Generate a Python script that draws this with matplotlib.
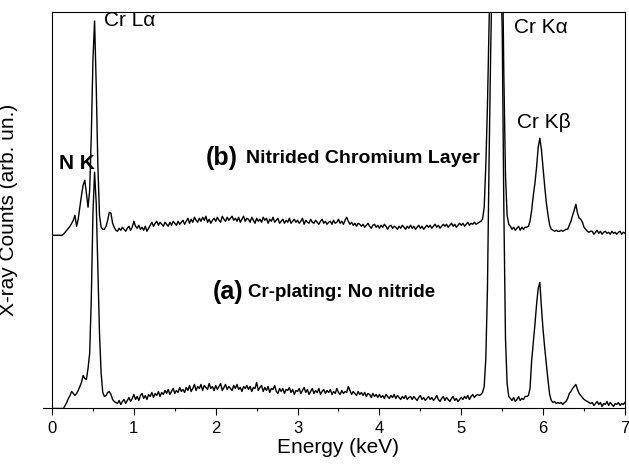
import numpy as np
import matplotlib
matplotlib.use("Agg")
import matplotlib.pyplot as plt
from matplotlib.ticker import MultipleLocator

# EDS channel grid (keV), 20 eV per channel
energy = np.round(np.arange(351) * 0.02, 2)

# (a) Cr-plating, counts in arbitrary units
counts_plating = [
    0, 0, 0, 0, 0, 0, 0, 0, 3, 6,
    10, 13, 17, 15, 13, 15, 18, 22, 26, 33,
    30, 29, 40, 55, 110, 195, 236, 205, 140, 75,
    35, 16, 12, 13, 16, 17, 14, 9, 7, 6,
    5, 8, 4, 7, 9, 5, 8, 11, 7, 10,
    14, 9, 12, 8, 13, 15, 10, 13, 9, 14,
    12, 16, 11, 15, 13, 17, 12, 16, 14, 18,
    15, 19, 14, 17, 20, 15, 18, 16, 21, 17,
    19, 16, 21, 18, 23, 17, 20, 24, 18, 22,
    20, 24, 18, 23, 21, 19, 25, 20, 22, 18,
    23, 19, 22, 25, 18, 21, 24, 19, 22, 20,
    18, 23, 20, 24, 19, 21, 17, 22, 20, 23,
    19, 22, 17, 21, 20, 26, 18, 21, 23, 17,
    21, 18, 22, 16, 20, 19, 23, 17, 15, 20,
    17, 20, 15, 19, 18, 21, 16, 19, 14, 18,
    17, 20, 15, 18, 21, 16, 19, 14, 17, 20,
    15, 18, 16, 20, 14, 17, 19, 15, 18, 16,
    19, 14, 17, 15, 20, 16, 14, 18, 15, 17,
    16, 22, 18, 14, 17, 15, 13, 17, 14, 16,
    13, 16, 12, 15, 14, 11, 15, 12, 14, 11,
    14, 11, 13, 10, 14, 12, 10, 13, 11, 14,
    10, 13, 11, 9, 12, 10, 13, 9, 11, 12,
    9, 12, 10, 8, 11, 13, 9, 11, 8, 10,
    12, 9, 11, 8, 10, 13, 9, 7, 10, 12,
    8, 11, 9, 7, 10, 12, 8, 10, 7, 9,
    11, 9, 12, 10, 13, 9, 12, 14, 11, 13,
    14, 13, 14, 16, 22, 50, 120, 250, 360, 450,
    490, 500, 500, 480, 450, 380, 200, 70, 25, 12,
    10, 8, 11, 7, 9, 12, 8, 10, 9, 12,
    12, 13, 20, 48, 66, 84, 104, 120, 126, 100,
    78, 60, 44, 28, 14, 8, 6, 7, 5, 6,
    5, 6, 4, 6, 7, 10, 15, 17, 20, 22,
    24, 19, 15, 13, 11, 9, 8, 7, 6, 5,
    6, 3, 5, 7, 4, 6, 2, 5, 4, 7,
    3, 6, 4, 2, 5, 4, 6, 3, 5, 4, 6,
]

# (b) nitrided chromium layer, counts in arbitrary units
counts_nitrided = [
    0, 0, 0, 0, 0, 0, 0, 1, 3, 5,
    7, 9, 12, 15, 20, 9, 16, 28, 40, 50,
    55, 42, 28, 45, 100, 175, 214, 150, 70, 20,
    8, 6, 6, 9, 15, 23, 22, 12, 8, 5,
    4, 7, 5, 8, 6, 4, 7, 9, 5, 8,
    14, 9, 7, 10, 6, 8, 5, 9, 4, 7,
    10, 13, 9, 12, 14, 10, 13, 11, 9, 13,
    11, 9, 13, 10, 14, 12, 10, 14, 11, 13,
    15, 11, 14, 17, 12, 16, 13, 18, 15, 13,
    17, 14, 18, 15, 19, 13, 16, 12, 15, 17,
    14, 18, 15, 13, 19, 16, 14, 18, 15, 17,
    19, 15, 17, 14, 18, 13, 16, 19, 14, 17,
    16, 13, 18, 15, 12, 17, 14, 16, 13, 18,
    15, 17, 12, 16, 14, 18, 13, 15, 17, 12,
    14, 16, 12, 15, 13, 17, 12, 14, 16, 13,
    15, 12, 14, 17, 11, 15, 13, 12, 16, 13,
    12, 15, 13, 11, 14, 16, 12, 14, 11, 13,
    14, 11, 15, 12, 13, 16, 12, 14, 11, 15,
    18, 14, 11, 13, 10, 12, 9, 12, 11, 9,
    11, 8, 10, 12, 9, 7, 10, 11, 8, 10,
    7, 10, 8, 11, 9, 6, 9, 10, 7, 9,
    8, 6, 9, 7, 10, 8, 6, 9, 7, 10,
    7, 9, 6, 8, 10, 7, 9, 6, 8, 10,
    8, 10, 7, 9, 11, 8, 10, 7, 9, 11,
    9, 11, 8, 10, 12, 9, 11, 8, 10, 12,
    10, 12, 9, 11, 13, 10, 12, 11, 13, 11,
    12, 13, 14, 16, 28, 70, 130, 210, 300, 380,
    420, 440, 440, 430, 400, 300, 160, 60, 20, 11,
    9, 6, 8, 5, 7, 9, 5, 8, 6, 8,
    8, 9, 14, 25, 40, 52, 68, 88, 97, 85,
    66, 48, 32, 20, 10, 6, 5, 4, 5, 4,
    4, 5, 4, 5, 6, 6, 10, 14, 20, 25,
    31, 22, 17, 16, 13, 8, 6, 4, 3, 4,
    4, 1, 3, 5, 2, 4, 1, 3, 4, 2,
    3, 1, 4, 2, 3, 1, 3, 4, 1, 3, 2,
]

# vertical shift applied to spectrum (b)
offset_nitrided = 173

peak_labels = ["Cr L\u03b1", "N K", "Cr K\u03b1", "Cr K\u03b2"]

plt.rcParams['font.family'] = ['Liberation Sans', 'DejaVu Sans']

fig = plt.figure(figsize=(6.29, 4.67), dpi=100)
ax = fig.add_axes([0.0827, 0.1253, 0.9109, 0.8490])

ax.plot(energy, counts_plating, color='black', lw=1.0)
ax.plot(energy, np.array(counts_nitrided) + offset_nitrided, color='black', lw=1.0)

ax.set_xlim(0, 7)
ax.set_ylim(0, 396)

ax.xaxis.set_major_locator(MultipleLocator(1))
ax.xaxis.set_minor_locator(MultipleLocator(0.5))
ax.tick_params(axis='x', which='major', direction='out', length=5, width=0.8,
               labelsize=12, pad=4)
ax.tick_params(axis='x', which='minor', direction='out', length=2.5, width=0.8)
ax.set_yticks([])
for sp in ax.spines.values():
    sp.set_linewidth(0.8)

# bottom axis line runs a little past the origin
ax.plot([-0.016, 0], [0, 0], transform=ax.transAxes, color='black', lw=0.8,
        clip_on=False)

ax.set_xlabel('Energy (keV)', fontsize=15)
ax.xaxis.set_label_coords(0.5, -0.075)
ax.set_ylabel('X-ray Counts (arb. un.)', fontsize=15)
ax.yaxis.set_label_coords(-0.06, 0.5)

# peak labels
ax.text(0.64, 388, peak_labels[0], fontsize=15, va='center', ha='left')
ax.text(0.08, 245, peak_labels[1], fontsize=15, fontweight='bold',
        va='center', ha='left')
ax.text(5.65, 381, peak_labels[2], fontsize=15, va='center', ha='left')
ax.text(5.68, 286, peak_labels[3], fontsize=15, va='center', ha='left')

# spectrum captions
ax.text(1.88, 250, '(b)', fontsize=18, fontweight='bold', va='center', ha='left')
ax.text(2.37, 250, 'Nitrided Chromium Layer', fontsize=14, fontweight='bold',
        va='center', ha='left')
ax.text(1.96, 116, '(a)', fontsize=18, fontweight='bold', va='center', ha='left')
ax.text(2.40, 116, 'Cr-plating: No nitride', fontsize=13.5, fontweight='bold',
        va='center', ha='left')

fig.savefig('out.png', dpi=100)
